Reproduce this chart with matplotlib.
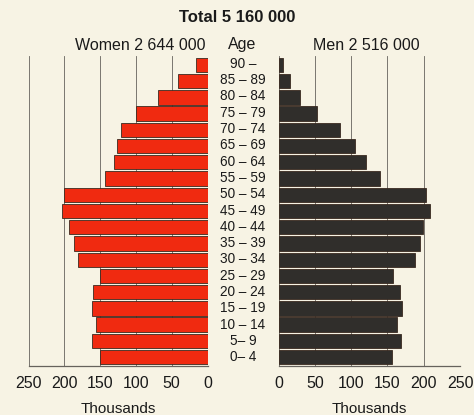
import numpy as np
import matplotlib
matplotlib.use("Agg")
import matplotlib.pyplot as plt
from matplotlib import font_manager

ages = ["0– 4", "5– 9", "10 – 14", "15 – 19", "20 – 24", "25 – 29", "30 – 34",
        "35 – 39", "40 – 44", "45 – 49", "50 – 54", "55 – 59", "60 – 64",
        "65 – 69", "70 – 74", "75 – 79", "80 – 84", "85 – 89", "90 –"]
women = [150, 162, 156, 162, 160, 150, 181, 187, 194, 204, 200,
         143, 131, 126, 121, 100, 69, 41, 16]
men = [156, 168, 163, 170, 167, 157, 188, 195, 199, 209, 203,
       139, 121, 105, 85, 53, 29, 15, 6]
ticks = [0, 50, 100, 150, 200, 250]

names = {f.name for f in font_manager.fontManager.ttflist}
fam = ["Liberation Sans Narrow", "DejaVu Sans"] if "Liberation Sans Narrow" in names else ["Liberation Sans", "DejaVu Sans"]
plt.rcParams['font.family'] = fam

bg = "#f7f3e4"
red = "#f02a10"
dark = "#302e2b"
line = "#66625c"

fig = plt.figure(figsize=(4.74, 4.15), dpi=100, facecolor=bg)
W, H = 474, 415
top, bottom = 56, 366
axL = fig.add_axes([28.7 / W, 1 - bottom / H, (207.5 - 28.7) / W, (bottom - top) / H])
axR = fig.add_axes([278.7 / W, 1 - bottom / H, (460 - 278.7) / W, (bottom - top) / H])

y = np.arange(len(ages))
for ax, vals, col in [(axL, women, red), (axR, men, dark)]:
    ax.set_facecolor(bg)
    ax.barh(y, vals, height=0.88, color=col, edgecolor="#3a2a20", linewidth=0.6, zorder=3)
    ax.set_xlim(0, 250)
    ax.set_ylim(-0.55, len(ages) - 0.45)
    for t in ticks:
        ax.axvline(t, color=line, linewidth=0.6, zorder=1)
    for s in ["top", "left", "right"]:
        ax.spines[s].set_visible(False)
    ax.spines["bottom"].set_color(line)
    ax.spines["bottom"].set_linewidth(0.9)
    ax.set_yticks([])
    ax.set_xticks(ticks)
    ax.set_xticklabels([str(t) for t in ticks], fontsize=11.5, color="#1a1a1a")
    ax.tick_params(axis="x", length=0, pad=7)
    ax.set_xlabel("Thousands", fontsize=11, color="#1a1a1a", labelpad=8)
axL.invert_xaxis()

for i, a in enumerate(ages):
    yy = 1 - (bottom - (i + 0.5) * (bottom - top) / len(ages) - 0.5) / H
    fig.text(243 / W, yy, a, ha="center", va="center", fontsize=9.8, color="#1a1a1a")

fig.text(237 / W, 1 - 17 / H, "Total 5 160 000", ha="center", va="center",
         fontsize=12, fontweight="bold", color="#1a1a1a")
fig.text(140 / W, 1 - 45 / H, "Women 2 644 000", ha="center", va="center", fontsize=11.5, color="#1a1a1a")
fig.text(242 / W, 1 - 45 / H, "Age", ha="center", va="center", fontsize=11.5, color="#1a1a1a")
fig.text(366 / W, 1 - 45 / H, "Men 2 516 000", ha="center", va="center", fontsize=11.5, color="#1a1a1a")

fig.savefig("out.png", dpi=100, facecolor=bg)
